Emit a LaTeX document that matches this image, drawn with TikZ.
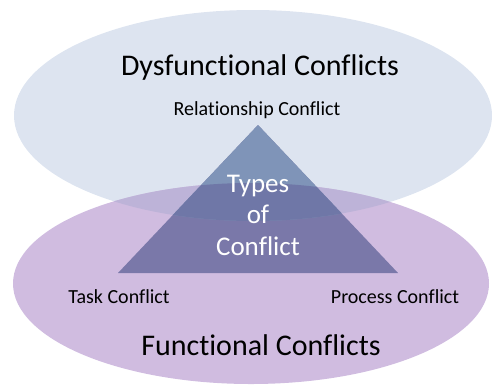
\documentclass[tikz,border=0pt]{standalone}
\usepackage{fontspec}
\setmainfont{Carlito}[Ligatures=NoCommon]
\definecolor{dysfill}{HTML}{DDE4F0}
\definecolor{funfill}{HTML}{D0BCE0}
\definecolor{bothfill}{HTML}{BDB3D8}
\definecolor{tritop}{HTML}{7F94B8}
\definecolor{trimid}{HTML}{6F77A7}
\definecolor{tribot}{HTML}{7A78A9}
\tikzset{
  bigtitle/.style={font=\fontsize{30}{34}\selectfont, text=black},
  typelabel/.style={font=\fontsize{20}{24}\selectfont, text=black},
  centerlabel/.style={font=\fontsize{27}{31.5}\selectfont, text=white, align=center}
}
\newcommand{\dysellipse}{(253,115.5) ellipse [x radius=239, y radius=105.5]}
\newcommand{\funellipse}{(251,283.5) ellipse [x radius=238, y radius=100.5]}
\newcommand{\triangleshape}{(258,125) -- (118,273) -- (398,273) -- cycle}
\begin{document}
\begin{tikzpicture}[x=1pt,y=-1pt]
  \useasboundingbox (0,0) rectangle (492,389);
  % the two ellipses
  \fill[dysfill] \dysellipse;
  \fill[funfill] \funellipse;
  \begin{scope}
    \clip \dysellipse;
    \fill[bothfill] \funellipse;
  \end{scope}
  % the triangle, shaded by the ellipse it lies in
  \fill[tribot] \triangleshape;
  \begin{scope}
    \clip \triangleshape;
    \fill[tritop] \dysellipse;
    \clip \dysellipse;
    \fill[trimid] \funellipse;
  \end{scope}
  % labels
  \node[bigtitle] (dys) at (260,67) {Dysfunctional Conflicts};
  \node[typelabel] (rel) at (257,110) {Relationship Conflict};
  \node[centerlabel] (types) at (258,215) {Types\\of\\Conflict};
  \node[typelabel] (task) at (119,297) {Task Conflict};
  \node[typelabel] (proc) at (395,297) {Process Conflict};
  \node[bigtitle] (fun) at (261,345) {Functional Conflicts};
\end{tikzpicture}
\end{document}
